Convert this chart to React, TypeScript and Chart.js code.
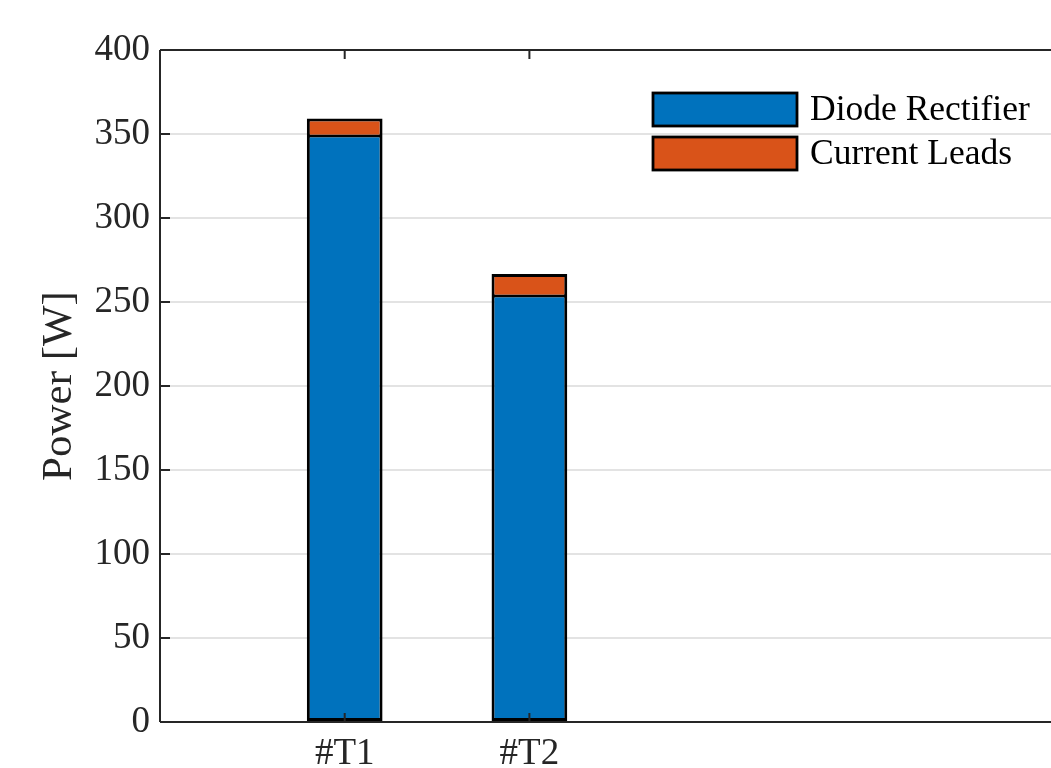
import React, { useEffect, useRef } from "react";
import { Chart, registerables } from "chart.js";

Chart.register(...registerables);

const categoryPositions = [1, 2];
const categoryLabels = ["#T1", "#T2"];
const diodeRectifier = [348.8, 253.6];
const currentLeads = [10.5, 13.1];
const seriesNames = ["Diode Rectifier", "Current Leads"];
const seriesColors = ["#0072BD", "#D95319"];
const yTicks = [0, 50, 100, 150, 200, 250, 300, 350, 400];

const FONT = "'Liberation Serif', 'Times New Roman', serif";
const AXIS = "#262626";

const axesPlugin = {
  id: "matlabAxes",
  afterDatasetsDraw(chart: any) {
    const { ctx, chartArea, scales } = chart;
    const { left, right, top, bottom } = chartArea;
    ctx.save();
    ctx.strokeStyle = AXIS;
    ctx.lineWidth = 2;
    ctx.beginPath();
    ctx.moveTo(left, top);
    ctx.lineTo(left, bottom);
    ctx.moveTo(left, bottom);
    ctx.lineTo(right + 2, bottom);
    ctx.moveTo(left, top);
    ctx.lineTo(right + 2, top);
    yTicks.forEach((v) => {
      const y = scales.y.getPixelForValue(v);
      ctx.moveTo(left, y);
      ctx.lineTo(left + 10, y);
    });
    categoryPositions.forEach((v) => {
      const x = scales.x.getPixelForValue(v);
      ctx.moveTo(x, bottom);
      ctx.lineTo(x, bottom - 9);
      ctx.moveTo(x, top);
      ctx.lineTo(x, top + 9);
    });
    ctx.stroke();

    const boxX = 653;
    const boxW = 144;
    const boxH = 33;
    const rowsY = [93, 137];
    chart.data.datasets.forEach((ds: any, i: number) => {
      const y = rowsY[i];
      ctx.fillStyle = ds.backgroundColor;
      ctx.fillRect(boxX, y, boxW, boxH);
      ctx.strokeStyle = "#000";
      ctx.lineWidth = 2.8;
      ctx.strokeRect(boxX, y, boxW, boxH);
      ctx.fillStyle = "#000";
      ctx.font = `35.5px ${FONT}`;
      ctx.textBaseline = "middle";
      ctx.textAlign = "left";
      ctx.fillText(ds.label, 810, y + boxH / 2 + 1);
    });
    ctx.restore();
  },
};

export default function App() {
  const ref = useRef<HTMLCanvasElement | null>(null);

  useEffect(() => {
    if (!ref.current) return;
    const chart = new Chart(ref.current, {
      type: "bar",
      data: {
        datasets: [
          {
            label: seriesNames[0],
            data: categoryPositions.map((x, i) => ({ x, y: diodeRectifier[i] })),
            backgroundColor: seriesColors[0],
            borderColor: "#000",
            borderWidth: { top: 1.5, bottom: 3, left: 3, right: 3 },
            borderSkipped: false,
            barPercentage: 0.41,
            categoryPercentage: 1,
          },
          {
            label: seriesNames[1],
            data: categoryPositions.map((x, i) => ({ x, y: currentLeads[i] })),
            backgroundColor: seriesColors[1],
            borderColor: "#000",
            borderWidth: { top: 3, bottom: 1.5, left: 3, right: 3 },
            borderSkipped: false,
            barPercentage: 0.41,
            categoryPercentage: 1,
          },
        ],
      },
      options: {
        animation: false,
        responsive: false,
        devicePixelRatio: 1,
        layout: { padding: { top: 50, right: 0, left: 0, bottom: 0 } },
        plugins: {
          legend: { display: false },
          tooltip: { enabled: false },
        },
        scales: {
          x: {
            type: "linear",
            stacked: true,
            offset: false,
            min: 0,
            max: 4.824,
            bounds: "ticks",
            grid: { display: false, drawTicks: false, offset: false },
            border: { display: false },
            afterBuildTicks: (scale: any) => {
              scale.ticks = categoryPositions.map((v) => ({ value: v }));
            },
            afterFit: (scale: any) => {
              scale.height = 46;
            },
            ticks: {
              autoSkip: false,
              maxRotation: 0,
              padding: 10,
              color: AXIS,
              font: { family: FONT, size: 37 },
              callback: (v: any) => {
                const idx = categoryPositions.indexOf(Number(v));
                return idx >= 0 ? categoryLabels[idx] : "";
              },
            },
          },
          y: {
            stacked: true,
            min: 0,
            max: 400,
            afterBuildTicks: (scale: any) => {
              scale.ticks = yTicks.map((v) => ({ value: v }));
            },
            afterFit: (scale: any) => {
              scale.width = 160;
            },
            grid: { color: "#e3e3e3", lineWidth: 2, drawTicks: false },
            border: { display: false },
            ticks: {
              padding: 10,
              color: AXIS,
              font: { family: FONT, size: 37 },
            },
            title: {
              display: true,
              text: "Power [W]",
              color: AXIS,
              font: { family: FONT, size: 43 },
              padding: { top: 34, bottom: 0 },
            },
          },
        },
      },
      plugins: [axesPlugin],
    } as any);
    return () => chart.destroy();
  }, []);

  return (
    <div style={{ position: "fixed", left: 0, top: 0, width: 1051, height: 768, background: "#fff" }}>
      <canvas ref={ref} width={1051} height={768} style={{ display: "block" }} />
    </div>
  );
}
